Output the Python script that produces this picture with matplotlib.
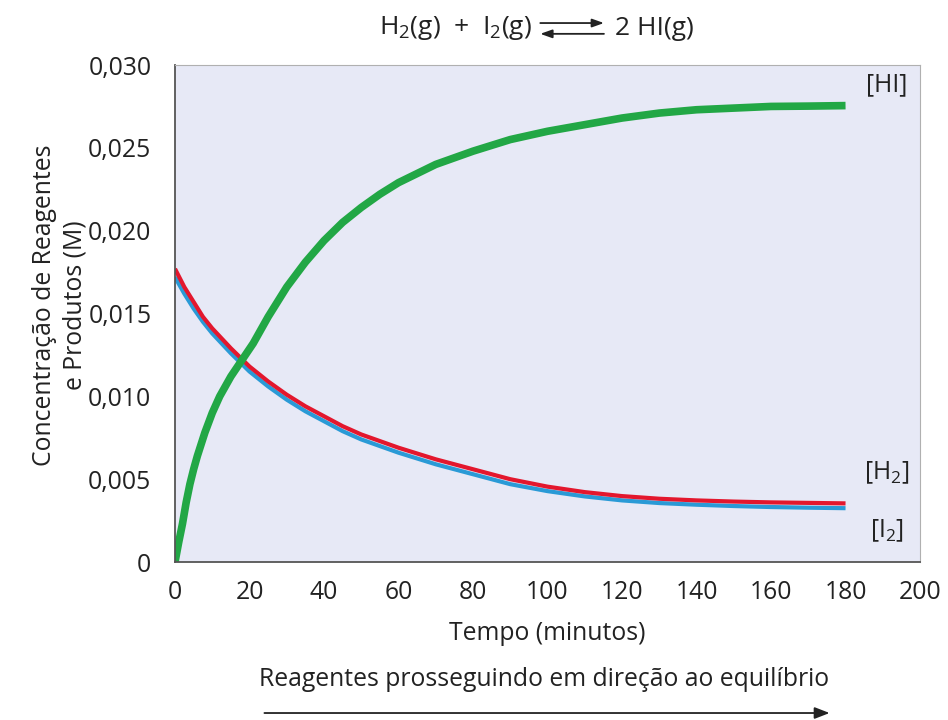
import matplotlib
matplotlib.use("Agg")
import matplotlib.pyplot as plt
from matplotlib.patches import FancyArrowPatch

plt.rcParams["font.family"] = ["Open Sans", "DejaVu Sans"]
plt.rcParams["mathtext.fontset"] = "custom"
plt.rcParams["mathtext.rm"] = "Open Sans"
plt.rcParams["mathtext.it"] = "Open Sans"
plt.rcParams["mathtext.default"] = "rm"

# dados
tempo_hi = [0, 0.5, 1, 2, 3, 4, 5, 6, 8, 10, 12, 15, 18, 21, 25, 30, 35, 40, 45, 50, 55, 60,
            70, 80, 90, 100, 110, 120, 130, 140, 150, 160, 170, 180]
conc_hi = [0.0, 0.0006, 0.0012, 0.0023, 0.0036, 0.0047, 0.0056, 0.0064, 0.0078, 0.0090, 0.0100,
           0.0112, 0.0122, 0.0132, 0.0148, 0.0166, 0.0181, 0.0194, 0.0205, 0.0214, 0.0222, 0.0229,
           0.0240, 0.0248, 0.0255, 0.0260, 0.0264, 0.0268, 0.0271, 0.0273, 0.0274, 0.0275, 0.02752, 0.02755]

tempo = [0, 2.5, 5, 7.5, 10, 15, 20, 25, 30, 35, 40, 45, 50, 60, 70, 80, 90, 100, 110, 120,
         130, 140, 150, 160, 170, 180]
conc_h2 = [0.0177, 0.0166, 0.0157, 0.0148, 0.0141, 0.0129, 0.0118, 0.0109, 0.0101, 0.0094, 0.0088,
           0.0082, 0.0077, 0.0069, 0.0062, 0.0056, 0.0050, 0.00455, 0.00422, 0.00398, 0.00382, 0.00372,
           0.00365, 0.00360, 0.00357, 0.00354]
conc_i2 = [0.0172, 0.0162, 0.0153, 0.0145, 0.0138, 0.0126, 0.0115, 0.0106, 0.0098, 0.0091, 0.0085,
           0.0079, 0.0074, 0.0066, 0.0059, 0.0053, 0.0047, 0.00428, 0.00396, 0.00372, 0.00356, 0.00346,
           0.00338, 0.00332, 0.00328, 0.00325]

y_ticks = [0, 0.005, 0.010, 0.015, 0.020, 0.025, 0.030]
y_labels = ["0", "0,005", "0,010", "0,015", "0,020", "0,025", "0,030"]
x_ticks = [0, 20, 40, 60, 80, 100, 120, 140, 160, 180, 200]

fs = 17.8
tc = "#222222"

fig = plt.figure(figsize=(9.48, 7.2), dpi=100)
ax = fig.add_axes([0.1846, 0.2194, 0.7859, 0.6903])
ax.set_facecolor("#e7e9f6")

ax.plot(tempo, conc_i2, color="#2a9ad6", lw=3, solid_joinstyle="round", solid_capstyle="butt")
ax.plot(tempo, conc_h2, color="#e3172d", lw=3, solid_joinstyle="round", solid_capstyle="butt")
ax.plot(tempo_hi, conc_hi, color="#22a745", lw=5.5, solid_joinstyle="round", solid_capstyle="butt")

ax.set_xlim(0, 200)
ax.set_ylim(0, 0.030)
ax.set_xticks(x_ticks)
ax.set_yticks(y_ticks)
ax.set_yticklabels(y_labels)
ax.tick_params(length=0, labelsize=fs, colors=tc)
ax.tick_params(axis="y", pad=17)
ax.tick_params(axis="x", pad=13)

for s in ["top", "right"]:
    ax.spines[s].set_color("#b0b0b0")
for s in ["left", "bottom"]:
    ax.spines[s].set_color("#555555")
    ax.spines[s].set_linewidth(1.3)

ax.set_xlabel("Tempo (minutos)", fontsize=fs, color=tc)
ax.xaxis.set_label_coords(0.5, -0.118)
ax.set_ylabel("Concentração de Reagentes\ne Produtos (M)", fontsize=fs, color=tc, linespacing=1.25)
ax.yaxis.set_label_coords(-0.118, 0.517)

# rótulos das curvas
ax.text(191, 0.0288, "[HI]", fontsize=fs, ha="center", va="center", color=tc)
ax.text(191, 0.0054, "[H$_2$]", fontsize=fs, ha="center", va="center", color=tc)
ax.text(191, 0.0019, "[I$_2$]", fontsize=fs, ha="center", va="center", color=tc)

# título com setas de equilíbrio
fig.text(0.561, 0.961, "H$_2$(g)  +  I$_2$(g)", fontsize=19, ha="right", va="center", color=tc)
fig.text(0.649, 0.961, "2 HI(g)", fontsize=19, ha="left", va="center", color=tc)
fig.add_artist(FancyArrowPatch((0.567, 0.968), (0.640, 0.968), transform=fig.transFigure,
                               arrowstyle="-|>,head_length=7,head_width=2.5", color=tc, lw=1.3))
fig.add_artist(FancyArrowPatch((0.640, 0.953), (0.567, 0.953), transform=fig.transFigure,
                               arrowstyle="-|>,head_length=7,head_width=2.5", color=tc, lw=1.3))

fig.text(0.574, 0.056, "Reagentes prosseguindo em direção ao equilíbrio", fontsize=fs,
         ha="center", va="center", color=tc)
fig.add_artist(FancyArrowPatch((0.276, 0.0097), (0.878, 0.0097), transform=fig.transFigure,
                               arrowstyle="-|>,head_length=9,head_width=3.5", color=tc, lw=1.3))

plt.savefig("out.png", dpi=100)
plt.close("all")
